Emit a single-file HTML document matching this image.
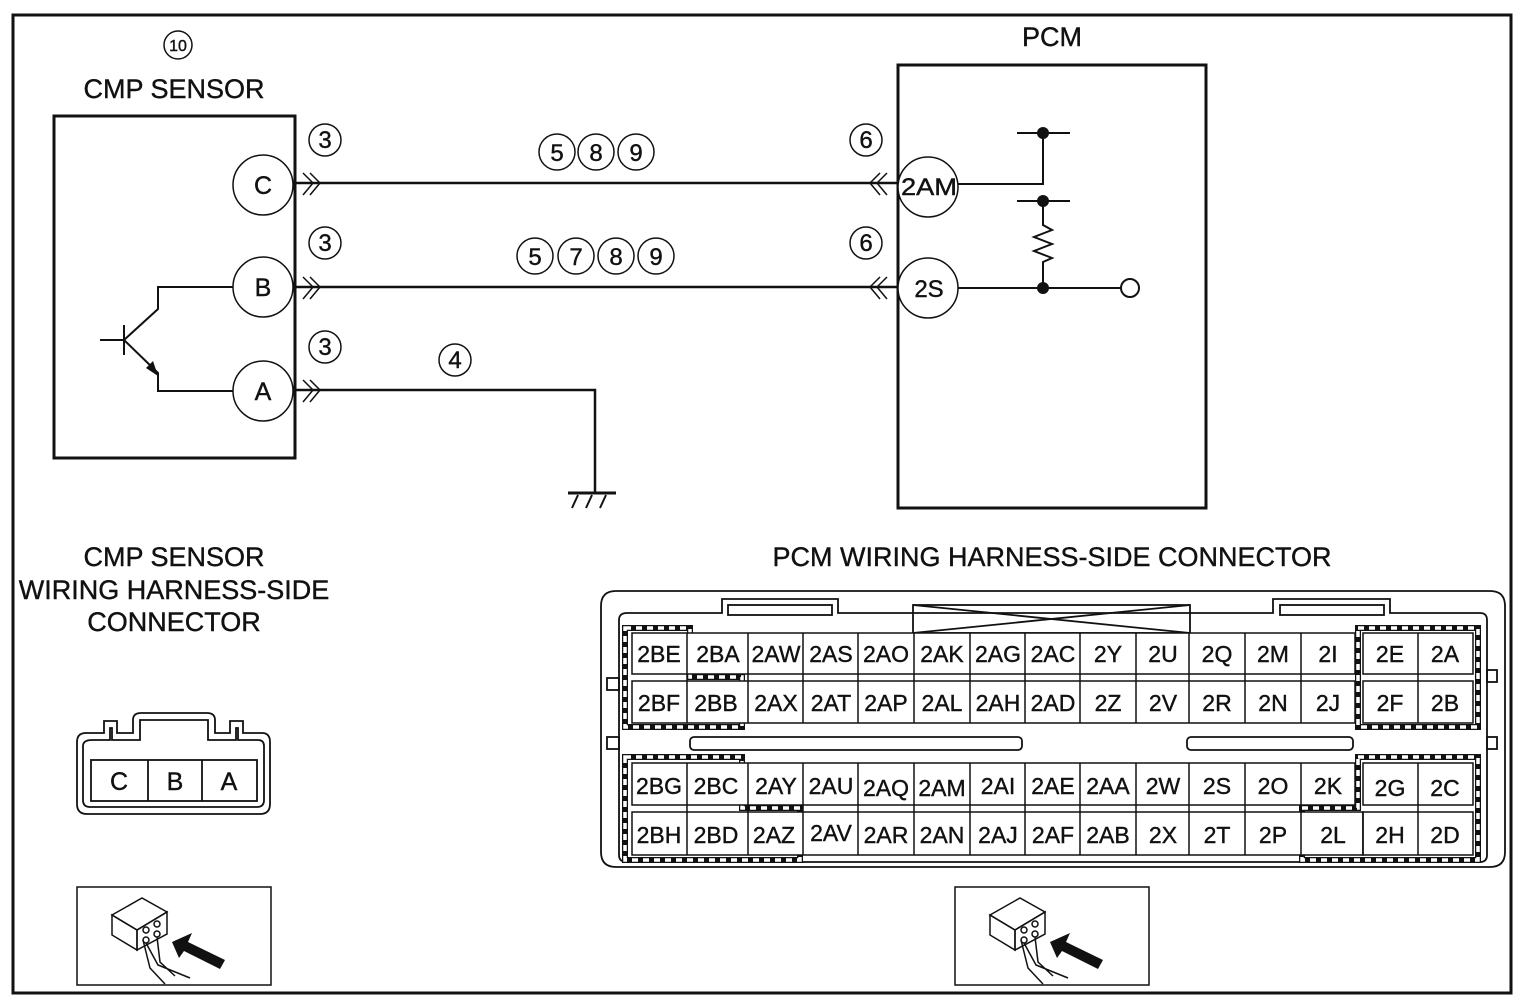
<!DOCTYPE html>
<html><head><meta charset="utf-8"><style>
html,body{margin:0;padding:0;background:#fff;}
svg{display:block;}
text{font-family:"Liberation Sans",Arial,sans-serif;fill:#111;stroke:#111;stroke-width:0.4;}
</style></head><body>
<svg width="1526" height="1006" viewBox="0 0 1526 1006" xmlns="http://www.w3.org/2000/svg">
<rect x="13" y="15" width="1498" height="978" fill="none" stroke="#111" stroke-width="3"/>

<circle cx="178" cy="45" r="14" fill="none" stroke="#111" stroke-width="1.5"/>
<text x="178" y="51" font-size="16" text-anchor="middle">10</text>
<text x="174" y="98" font-size="27" text-anchor="middle">CMP SENSOR</text>
<text x="1052" y="46" font-size="27" text-anchor="middle">PCM</text>

<rect x="54" y="116" width="241" height="342" fill="none" stroke="#111" stroke-width="3"/>
<g fill="#fff" stroke="#111" stroke-width="1.5">
<circle cx="263" cy="185" r="30"/><circle cx="263" cy="287" r="30"/><circle cx="263" cy="391" r="30"/>
</g>
<g font-size="25" text-anchor="middle"><text x="263" y="194">C</text><text x="263" y="296">B</text><text x="263" y="400">A</text></g>
<g stroke="#111" stroke-width="2" fill="none">
<line x1="100" y1="340" x2="124" y2="340"/><line x1="124" y1="325" x2="124" y2="355"/>
<polyline points="124,340 158,309 158,287 233,287"/>
<polyline points="124,340 155,370 158,373 158,391 233,391"/>
</g>
<polygon points="158,376 146,368 153,361" fill="#111"/>

<g stroke="#111" stroke-width="1.5" fill="none">
<polyline points="303,173 313,183 303,195"/><polyline points="310,173 320,183 310,195"/>
<polyline points="303,277 313,287 303,299"/><polyline points="310,277 320,287 310,299"/>
<polyline points="303,380 313,390 303,402"/><polyline points="310,380 320,390 310,402"/>
<polyline points="880,173 870,183 880,195"/><polyline points="887,173 877,183 887,195"/>
<polyline points="880,277 870,287 880,299"/><polyline points="887,277 877,287 887,299"/>
</g>
<g stroke="#111" stroke-width="2.5" fill="none">
<line x1="295" y1="183" x2="897" y2="183"/>
<line x1="295" y1="287" x2="897" y2="287"/>
<polyline points="295,390 595,390 595,493"/>
</g>
<g stroke="#111" stroke-width="3"><line x1="568" y1="493" x2="616" y2="493"/>
<line x1="578" y1="495" x2="572" y2="508" stroke-width="2"/><line x1="592" y1="495" x2="586" y2="508" stroke-width="2"/><line x1="606" y1="495" x2="600" y2="508" stroke-width="2"/></g>

<g fill="none" stroke="#111" stroke-width="1.5">
<circle cx="325" cy="140" r="16"/><circle cx="325" cy="243" r="16"/><circle cx="325" cy="347" r="16"/>
<circle cx="557" cy="152" r="18"/><circle cx="596" cy="152" r="18"/><circle cx="636" cy="152" r="18"/>
<circle cx="535" cy="256" r="18"/><circle cx="576" cy="256" r="18"/><circle cx="616" cy="256" r="18"/><circle cx="656" cy="256" r="18"/>
<circle cx="455" cy="360" r="16"/><circle cx="866" cy="140" r="16"/><circle cx="866" cy="243" r="16"/>
</g>
<g font-size="24" text-anchor="middle">
<text x="325" y="148">3</text><text x="325" y="251">3</text><text x="325" y="355">3</text>
<text x="557" y="161">5</text><text x="596" y="161">8</text><text x="636" y="161">9</text>
<text x="535" y="265">5</text><text x="576" y="265">7</text><text x="616" y="265">8</text><text x="656" y="265">9</text>
<text x="455" y="368">4</text><text x="866" y="148">6</text><text x="866" y="251">6</text>
</g>

<rect x="898" y="65" width="308" height="443" fill="none" stroke="#111" stroke-width="3"/>
<g stroke="#111" stroke-width="2" fill="none">
<polyline points="958,184 1043,184 1043,133"/>
<line x1="1017" y1="133" x2="1070" y2="133"/>
<line x1="1017" y1="201" x2="1070" y2="201"/>
<polyline points="1043,201 1043,225 1052,230 1034,237 1052,244 1034,251 1052,258 1043,262 1043,288"/>
<line x1="958" y1="288" x2="1121" y2="288"/>
</g>
<circle cx="1130" cy="288" r="9" fill="#fff" stroke="#111" stroke-width="2"/>
<g fill="#111"><circle cx="1043" cy="133" r="6"/><circle cx="1043" cy="201" r="6"/><circle cx="1043" cy="288" r="6"/></g>
<g fill="#fff" stroke="#111" stroke-width="1.5"><circle cx="928" cy="187" r="30"/><circle cx="928" cy="288" r="30"/></g>
<g font-size="24" text-anchor="middle"><text x="929" y="195" textLength="56" lengthAdjust="spacingAndGlyphs">2AM</text><text x="929" y="297">2S</text></g>

<g font-size="27" text-anchor="middle">
<text x="174" y="566">CMP SENSOR</text>
<text x="174" y="599">WIRING HARNESS-SIDE</text>
<text x="174" y="631">CONNECTOR</text>
<text x="1052" y="566">PCM WIRING HARNESS-SIDE CONNECTOR</text>
</g>

<g fill="none" stroke="#111" stroke-width="1.8">
<path d="M86,733 H104 V721 H117 V733 H133 V720 Q133,713 141,713 H207 Q215,713 215,720 V733 H230 V721 H243 V733 H262 Q270,733 270,742 V804 Q270,814 260,814 H87 Q77,814 77,804 V742 Q77,733 86,733 Z"/>
<path d="M92,740 H110 V728 H112 V740 H140 V720 H208 V740 H236 V728 H238 V740 H258 Q264,740 264,746 V800 Q264,807 257,807 H90 Q83,807 83,800 V746 Q83,740 92,740 Z"/>
<rect x="91" y="760" width="166" height="41"/>
<line x1="148" y1="760" x2="148" y2="801"/><line x1="202" y1="760" x2="202" y2="801"/>
</g>
<g font-size="25" text-anchor="middle"><text x="119" y="790">C</text><text x="175" y="790">B</text><text x="229" y="790">A</text></g>

<g fill="none" stroke="#111" stroke-width="1.8">
<path d="M616,591 H1490 Q1505,591 1505,606 V852 Q1505,867 1490,867 H616 Q601,867 601,852 V606 Q601,591 616,591 Z"/>
<path d="M627,613 H722 V599 H838 V613 H1273 V599 H1390 V613 H1480 Q1487,613 1487,620 V855 Q1487,862 1480,862 H627 Q619,862 619,855 V620 Q619,613 627,613 Z"/>
<rect x="728" y="605" width="104" height="10"/><rect x="1280" y="605" width="104" height="10"/>
<rect x="913" y="605" width="277" height="28"/>
<path d="M913,605 L1190,633 M913,633 L1190,605"/>
<rect x="690" y="737" width="332" height="13" rx="4"/>
<rect x="1187" y="737" width="166" height="13" rx="4"/>
<rect x="607" y="678" width="12" height="12"/><rect x="607" y="737" width="12" height="12"/>
<rect x="1487" y="670" width="10" height="12"/><rect x="1487" y="737" width="10" height="12"/>
</g>

<g fill="none" stroke="#111">
<g stroke-width="6">
<path d="M625,628 H690 V677 H742 V727 H625 Z"/>
<path d="M1358,628 H1478 V727 H1358 Z"/>
<path d="M625,757 H742 V808 H800 V860 H625 Z"/>
<path d="M1358,757 H1478 V860 H1302 V808 H1358 Z"/>
</g>
<g stroke="#fff" stroke-width="3.5" stroke-dasharray="6 5">
<path d="M625,628 H690 V677 H742 V727 H625 Z"/>
<path d="M1358,628 H1478 V727 H1358 Z"/>
<path d="M625,757 H742 V808 H800 V860 H625 Z"/>
<path d="M1358,757 H1478 V860 H1302 V808 H1358 Z"/>
</g>
</g>

<g fill="#fff" stroke="#111" stroke-width="1.5">
<rect x="632" y="633" width="723" height="41"/><rect x="632" y="681" width="723" height="42"/>
<rect x="632" y="763" width="723" height="42"/><rect x="632" y="812" width="731" height="43"/>
<rect x="1363" y="633" width="110" height="41"/><rect x="1363" y="681" width="110" height="42"/>
<rect x="1363" y="763" width="110" height="42"/><rect x="1363" y="812" width="110" height="43"/>
</g>
<g stroke="#111" stroke-width="1.5">
<path d="M687,633V723 M748,633V723 M803,633V723 M858,633V723 M914,633V723 M970,633V723 M1025,633V723 M1080,633V723 M1136,633V723 M1189,633V723 M1245,633V723 M1301,633V723 M1418,633V723"/>
<path d="M687,763V855 M748,763V855 M803,763V855 M858,763V855 M914,763V855 M970,763V855 M1025,763V855 M1080,763V855 M1136,763V855 M1189,763V855 M1245,763V855 M1301,763V855 M1418,763V855 M1363,812V855"/>
</g>
<g font-size="23" text-anchor="middle">
<text x="659" y="662">2BE</text><text x="718" y="662">2BA</text><text x="776" y="662">2AW</text><text x="831" y="662">2AS</text><text x="886" y="662">2AO</text><text x="942" y="662">2AK</text><text x="998" y="662">2AG</text><text x="1053" y="662">2AC</text><text x="1108" y="662">2Y</text><text x="1163" y="662">2U</text><text x="1217" y="662">2Q</text><text x="1273" y="662">2M</text><text x="1328" y="662">2I</text><text x="1390" y="662">2E</text><text x="1445" y="662">2A</text>
<text x="659" y="711">2BF</text><text x="716" y="711">2BB</text><text x="776" y="711">2AX</text><text x="831" y="711">2AT</text><text x="886" y="711">2AP</text><text x="942" y="711">2AL</text><text x="998" y="711">2AH</text><text x="1053" y="711">2AD</text><text x="1108" y="711">2Z</text><text x="1163" y="711">2V</text><text x="1217" y="711">2R</text><text x="1273" y="711">2N</text><text x="1328" y="711">2J</text><text x="1390" y="711">2F</text><text x="1445" y="711">2B</text>
<text x="659" y="794">2BG</text><text x="716" y="794">2BC</text><text x="776" y="794">2AY</text><text x="831" y="794">2AU</text><text x="886" y="796">2AQ</text><text x="942" y="796">2AM</text><text x="998" y="794">2AI</text><text x="1053" y="794">2AE</text><text x="1108" y="794">2AA</text><text x="1163" y="794">2W</text><text x="1217" y="794">2S</text><text x="1273" y="794">2O</text><text x="1328" y="794">2K</text><text x="1390" y="796">2G</text><text x="1445" y="796">2C</text>
<text x="659" y="843">2BH</text><text x="716" y="843">2BD</text><text x="774" y="843">2AZ</text><text x="831" y="841">2AV</text><text x="886" y="843">2AR</text><text x="942" y="843">2AN</text><text x="998" y="843">2AJ</text><text x="1053" y="843">2AF</text><text x="1108" y="843">2AB</text><text x="1163" y="843">2X</text><text x="1217" y="843">2T</text><text x="1273" y="843">2P</text><text x="1333" y="843">2L</text><text x="1390" y="843">2H</text><text x="1445" y="843">2D</text>
</g>

<g id="ic">
<rect x="77" y="887" width="194" height="98" fill="none" stroke="#111" stroke-width="1.5"/>
<g fill="none" stroke="#111" stroke-width="1.5">
<polygon points="112,915 142,898 167,912 137,930"/>
<polygon points="112,915 137,930 137,950 112,935"/>
<polygon points="137,930 167,912 167,934 137,950"/>
<circle cx="146" cy="930" r="3"/><circle cx="157" cy="924" r="3"/><circle cx="146" cy="940" r="3"/><circle cx="157" cy="934" r="3"/>
<path d="M146,943 L158,965 L190,978 M157,937 L160,962 L175,976 M143,940 L150,968 L165,984"/>
</g>
<polygon points="172,942 192,933 188,942 225,960 220,969 184,951 179,958" fill="#111"/>
</g>
<use href="#ic" transform="translate(878,0)"/>
</svg>
</body></html>
